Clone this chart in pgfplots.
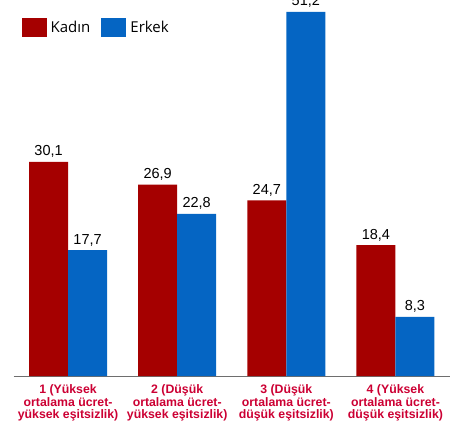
\documentclass[border=0pt]{standalone}
\usepackage{pgfplots}
\pgfplotsset{compat=1.18}
\usepackage{fontspec}
\setmainfont{Liberation Sans}
\newfontfamily\legendfont{Open Sans}

\definecolor{kadin}{HTML}{A50000}
\definecolor{erkek}{HTML}{0565C3}
\definecolor{labelred}{HTML}{CC0033}
\definecolor{axisgray}{HTML}{6E6E6E}

\begin{document}
\begin{tikzpicture}
\begin{axis}[
  scale only axis,
  width=436.5bp, height=376bp,
  xmin=-0.5, xmax=3.5,
  ymin=0, ymax=52.88,
  ybar=0pt, bar width=39bp,
  axis x line*=bottom,
  axis y line=none,
  x axis line style={-, draw=axisgray, line width=0.9bp},
  xtick={0,1,2,3},
  major tick length=0pt,
  xticklabels={
    {1 (Yüksek\\ortalama ücret-\\yüksek eşitsizlik)},
    {2 (Düşük\\ortalama ücret-\\yüksek eşitsizlik)},
    {3 (Düşük\\ortalama ücret-\\düşük eşitsizlik)},
    {4 (Yüksek\\ortalama ücret-\\düşük eşitsizlik)}},
  xticklabel style={font=\fontsize{12.3bp}{12.6bp}\selectfont\bfseries,
    text=labelred, align=center, anchor=north, inner sep=0pt, yshift=-8.5bp},
  nodes near coords,
  nodes near coords style={font=\fontsize{14.5bp}{16bp}\selectfont, text=black,
    anchor=base, inner sep=0pt, yshift=6bp,
    /pgf/number format/.cd, fixed, fixed zerofill, precision=1, use comma,
    assume math mode=true},
  legend columns=2,
  legend style={draw=none, fill=none, at={(axis description cs:0,1)},
    anchor=north west, xshift=8bp, yshift=-18bp, inner sep=0pt,
    nodes={inner sep=0pt, font=\legendfont\fontsize{15bp}{18bp}\selectfont},
    /tikz/every odd column/.style={column sep=4bp},
    /tikz/every even column/.style={column sep=11bp}},
  legend image code/.code={\fill[#1, draw=none] (0bp,-9.5bp) rectangle (25bp,9.5bp);},
]
\addplot[fill=kadin, draw=none] coordinates {(0,30.1) (1,26.9) (2,24.7) (3,18.4)};
\addplot[fill=erkek, draw=none] coordinates {(0,17.7) (1,22.8) (2,51.2) (3,8.3)};
\legend{Kadın, Erkek}
\end{axis}
\pgfresetboundingbox
\path[use as bounding box] (current axis.south west) ++(-13.5bp,-53bp) rectangle ++(452bp,429bp);
\end{tikzpicture}
\end{document}
